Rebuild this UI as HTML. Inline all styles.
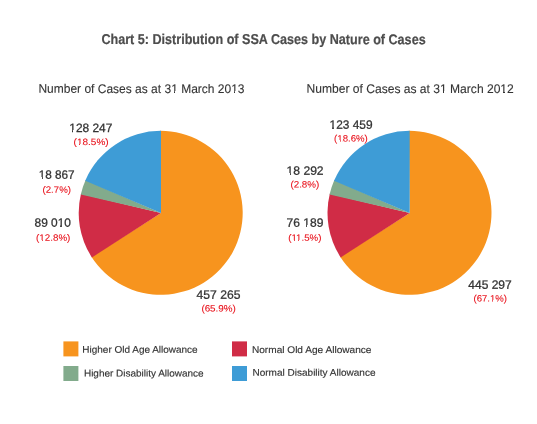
<!DOCTYPE html>
<html><head><meta charset="utf-8"><style>
html,body{margin:0;padding:0;background:#fff;width:537px;height:424px;overflow:hidden}
svg{display:block;font-family:"Liberation Sans",sans-serif}
svg{will-change:transform}
.t{font-weight:bold;font-size:14.3px;fill:#4D4D4D;stroke:#4D4D4D;stroke-width:0.2px}
.s{font-size:12.5px;fill:#333333;stroke:#333333;stroke-width:0.1px}
.n{font-size:12.1px;fill:#333333;text-anchor:middle;stroke:#333333;stroke-width:0.28px}
.p{font-size:9.2px;fill:#E8101A;text-anchor:middle;stroke:#E8101A;stroke-width:0.1px}
.l{font-size:9.7px;fill:#333333;stroke:#333333;stroke-width:0.15px}

</style></head><body>
<svg width="537" height="424" viewBox="0 0 537 424">
<path d="M161.00,213.00 L160.140,130.852 A82.0,82.0 0 1 1 91.435,256.740 Z" fill="#F7941E"/>
<path d="M161.00,213.00 L91.899,257.464 A82.0,82.0 0 0 1 80.968,193.697 Z" fill="#D02C46"/>
<path d="M161.00,213.00 L80.771,194.537 A82.0,82.0 0 0 1 85.574,179.985 Z" fill="#82AB8C"/>
<path d="M161.00,213.00 L85.233,180.776 A82.0,82.0 0 0 1 161.000,130.851 Z" fill="#3E9CD6"/>
<path d="M409.70,213.00 L408.840,130.853 A82.0,82.0 0 1 1 340.206,256.695 Z" fill="#F7941E"/>
<path d="M409.70,213.00 L340.670,257.419 A82.0,82.0 0 0 1 329.763,193.720 Z" fill="#D02C46"/>
<path d="M409.70,213.00 L329.566,194.559 A82.0,82.0 0 0 1 334.358,180.021 Z" fill="#82AB8C"/>
<path d="M409.70,213.00 L334.018,180.812 A82.0,82.0 0 0 1 409.700,130.850 Z" fill="#3E9CD6"/>
<rect x="63.4" y="341.4" width="15" height="15" fill="#F7941E"/><rect x="63.4" y="366" width="15" height="15" fill="#82AB8C"/><rect x="232" y="341.4" width="15" height="15" fill="#D02C46"/><rect x="232" y="366" width="15" height="15" fill="#3E9CD6"/>
<text id="title" class="t" transform="translate(101.39,44.00) rotate(0.03) scale(0.8813,1.0000)">Chart 5: Distribution of SSA Cases by Nature of Cases</text>
<text id="sub1" class="s" transform="translate(38.39,92.85) rotate(0.03) scale(0.9607,1.0000)">Number of Cases as at 31 March 2013</text>
<g fill="#fff" shape-rendering="crispEdges"><rect x="171" y="91" width="3" height="2"/><rect x="175" y="91" width="3" height="2"/><rect x="231" y="91" width="3" height="2"/><rect x="235" y="91" width="3" height="2"/></g>
<text id="sub2" class="s" transform="translate(306.51,92.85) rotate(0.03) scale(0.9663,1.0000)">Number of Cases as at 31 March 2012</text>
<g fill="#fff" shape-rendering="crispEdges"><rect x="440" y="91" width="3" height="2"/><rect x="444" y="91" width="3" height="2"/><rect x="501" y="91" width="2" height="2"/><rect x="505" y="91" width="2" height="2"/></g>
<text id="n128" class="n" transform="translate(90.81,131.90) rotate(0.03) scale(0.9863,1.0000)">128 247</text>
<g fill="#fff" shape-rendering="crispEdges"><rect x="69" y="130" width="3" height="3"/><rect x="73" y="130" width="3" height="3"/></g>
<text id="p185" class="p" transform="translate(91.12,144.90) rotate(0.03) scale(1.0879,1.0000)">(18.5%)</text>
<g fill="#fff" shape-rendering="crispEdges"><rect x="77" y="144" width="2" height="2"/><rect x="80" y="144" width="2" height="2"/></g>
<text id="n18867" class="n" transform="translate(56.63,178.80) rotate(0.03) scale(0.9707,1.0000)">18 867</text>
<g fill="#fff" shape-rendering="crispEdges"><rect x="39" y="177" width="3" height="2"/><rect x="43" y="177" width="2" height="2"/></g>
<text id="p27" class="p" transform="translate(56.70,192.75) rotate(0.03) scale(1.0551,1.0000)">(2.7%)</text>
<text id="n89010" class="n" transform="translate(52.69,226.80) rotate(0.03) scale(0.9832,1.0000)">89 010</text>
<g fill="#fff" shape-rendering="crispEdges"><rect x="58" y="225" width="2" height="2"/><rect x="62" y="225" width="2" height="2"/></g>
<text id="p128" class="p" transform="translate(53.23,240.75) rotate(0.03) scale(1.0647,1.0000)">(12.8%)</text>
<g fill="#fff" shape-rendering="crispEdges"><rect x="39" y="240" width="3" height="1"/><rect x="43" y="240" width="2" height="1"/></g>
<text id="n457" class="n" transform="translate(218.49,298.70) rotate(0.03) scale(1.0023,1.0000)">457 265</text>
<text id="p659" class="p" transform="translate(218.59,311.60) rotate(0.03) scale(1.0706,1.0000)">(65.9%)</text>
<text id="n123" class="n" transform="translate(351.01,128.70) rotate(0.03) scale(0.9829,1.0000)">123 459</text>
<g fill="#fff" shape-rendering="crispEdges"><rect x="330" y="127" width="2" height="2"/><rect x="334" y="127" width="2" height="2"/></g>
<text id="p186" class="p" transform="translate(350.95,141.60) rotate(0.03) scale(1.0455,1.0000)">(18.6%)</text>
<g fill="#fff" shape-rendering="crispEdges"><rect x="337" y="140" width="3" height="2"/><rect x="341" y="140" width="1" height="2"/></g>
<text id="n18292" class="n" transform="translate(305.10,174.80) rotate(0.03) scale(1.0005,1.0000)">18 292</text>
<g fill="#fff" shape-rendering="crispEdges"><rect x="287" y="173" width="3" height="2"/><rect x="291" y="173" width="2" height="2"/></g>
<text id="p28" class="p" transform="translate(304.86,187.60) rotate(0.03) scale(1.0683,1.0000)">(2.8%)</text>
<text id="n76" class="n" transform="translate(304.96,226.80) rotate(0.03) scale(0.9923,1.0000)">76 189</text>
<g fill="#fff" shape-rendering="crispEdges"><rect x="303" y="225" width="3" height="2"/><rect x="307" y="225" width="3" height="2"/></g>
<text id="p115" class="p" transform="translate(304.80,240.75) rotate(0.03) scale(1.0559,1.0000)">(11.5%)</text>
<g fill="#fff" shape-rendering="crispEdges"><rect x="291" y="240" width="3" height="1"/><rect x="295" y="240" width="2" height="1"/><rect x="296" y="240" width="2" height="1"/><rect x="299" y="240" width="2" height="1"/></g>
<text id="n445" class="n" transform="translate(490.02,288.70) rotate(0.03) scale(0.9915,1.0000)">445 297</text>
<text id="p671" class="p" transform="translate(490.28,301.60) rotate(0.03) scale(1.0426,1.0000)">(67.1%)</text>
<g fill="#fff" shape-rendering="crispEdges"><rect x="490" y="300" width="2" height="2"/><rect x="493" y="300" width="2" height="2"/></g>
<text id="leg1" class="l" transform="translate(82.37,352.80) rotate(0.03) scale(1.0290,1.0000)">Higher Old Age Allowance</text>
<text id="leg2" class="l" transform="translate(83.95,376.50) rotate(0.03) scale(1.0286,1.0000)">Higher Disability Allowance</text>
<text id="leg3" class="l" transform="translate(251.96,352.90) rotate(0.03) scale(1.0418,1.0000)">Normal Old Age Allowance</text>
<text id="leg4" class="l" transform="translate(252.46,375.70) rotate(0.03) scale(1.0330,1.0000)">Normal Disability Allowance</text>
</svg>
</body></html>
